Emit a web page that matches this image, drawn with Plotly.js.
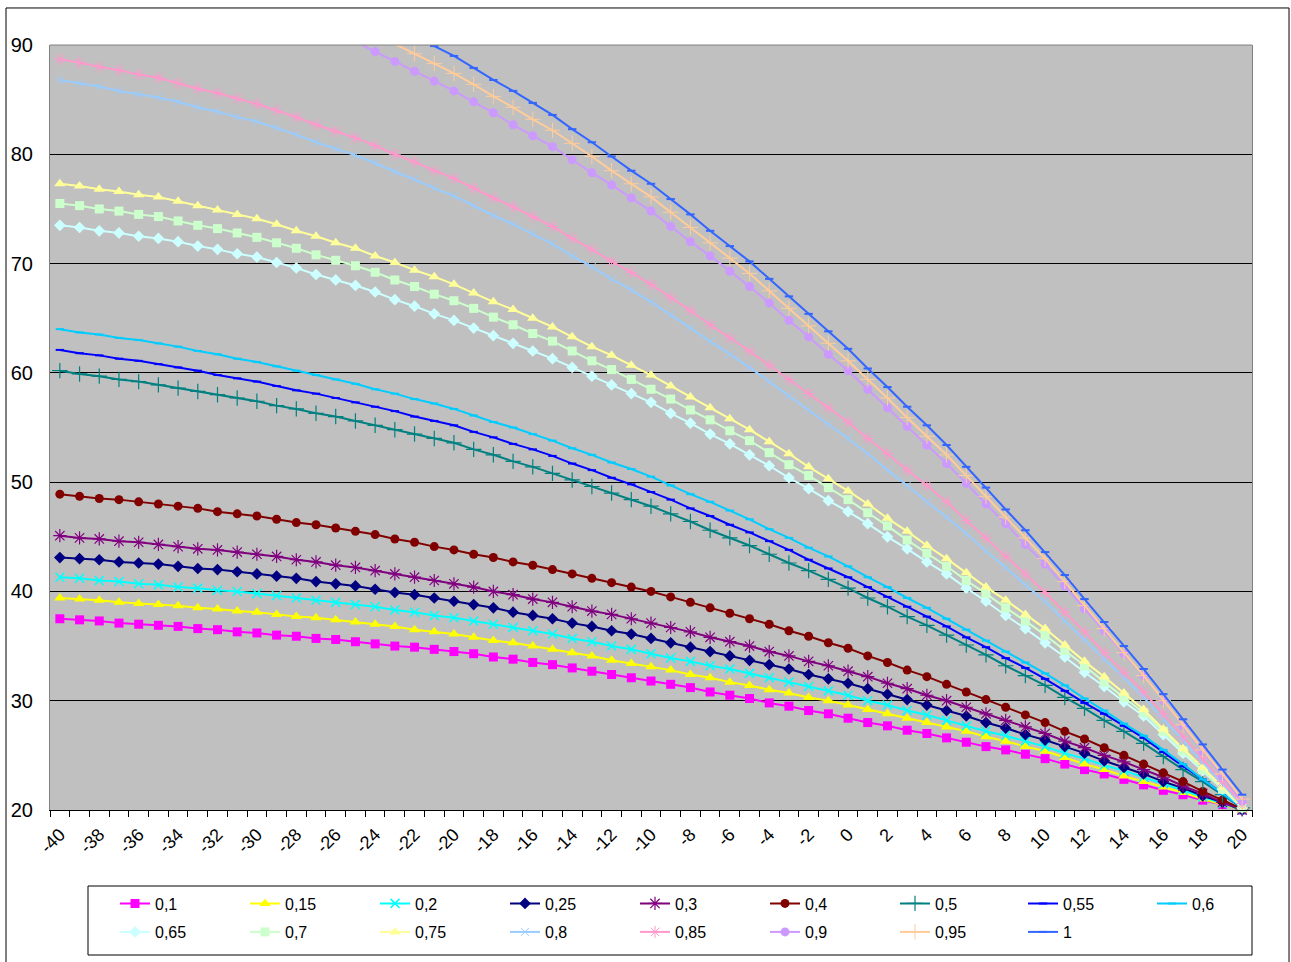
<!DOCTYPE html>
<html>
<head>
<meta charset="utf-8">
<script src="https://cdn.plot.ly/plotly-3.0.1.min.js"></script>
<style>html,body{margin:0;padding:0;background:#fff;}#chart{width:1291px;height:962px;}</style>
</head>
<body>
<div id="chart"></div>
<script>
var xValues = [-40,-39,-38,-37,-36,-35,-34,-33,-32,-31,-30,-29,-28,-27,-26,-25,-24,-23,-22,-21,-20,-19,-18,-17,-16,-15,-14,-13,-12,-11,-10,-9,-8,-7,-6,-5,-4,-3,-2,-1,0,1,2,3,4,5,6,7,8,9,10,11,12,13,14,15,16,17,18,19,20];
var tickValues = [-40,-38,-36,-34,-32,-30,-28,-26,-24,-22,-20,-18,-16,-14,-12,-10,-8,-6,-4,-2,0,2,4,6,8,10,12,14,16,18,20];
var tickLabels = ['-40','-38','-36','-34','-32','-30','-28','-26','-24','-22','-20','-18','-16','-14','-12','-10','-8','-6','-4','-2','0','2','4','6','8','10','12','14','16','18','20'];
var seriesNames = ['0,1','0,15','0,2','0,25','0,3','0,4','0,5','0,55','0,6','0,65','0,7','0,75','0,8','0,85','0,9','0,95','1'];

var s010 = [37.5,37.4,37.3,37.1,37.0, 36.9,36.8,36.6,36.5,36.3, 36.2,36.0,35.9,35.7,35.6, 35.4,35.2,35.0,34.9,34.7, 34.5,34.3,34.0,33.8,33.5, 33.3,33.0,32.7,32.4,32.1, 31.8,31.5,31.2,30.8,30.5, 30.2,29.8,29.5,29.1,28.8, 28.4,28.0,27.7,27.3,27.0, 26.6,26.2,25.8,25.5,25.1, 24.7,24.2,23.7,23.3,22.8, 22.3,21.8,21.4,20.9,20.5, 20.0];
var s015 = [39.4,39.3,39.2,39.0,38.9, 38.8,38.7,38.5,38.4,38.2, 38.1,37.9,37.7,37.6,37.4, 37.2,37.0,36.8,36.5,36.3, 36.1,35.8,35.5,35.3,35.0, 34.7,34.4,34.1,33.7,33.4, 33.1,32.8,32.4,32.1,31.7, 31.4,31.0,30.7,30.3,30.0, 29.6,29.2,28.8,28.4,28.0, 27.6,27.2,26.7,26.3,25.8, 25.4,24.8,24.2,23.7,23.1, 22.6,22.1,21.6,21.0,20.5, 20.0];
var s020 = [41.3,41.2,41.0,40.9,40.7, 40.6,40.4,40.3,40.1,40.0, 39.8,39.6,39.4,39.2,39.0, 38.8,38.6,38.3,38.1,37.8, 37.6,37.3,37.0,36.7,36.4, 36.1,35.7,35.4,35.0,34.7, 34.3,33.9,33.6,33.2,32.9, 32.5,32.1,31.7,31.3,30.9, 30.5,30.0,29.6,29.1,28.7, 28.2,27.7,27.2,26.8,26.3, 25.8,25.2,24.7,24.1,23.6, 23.0,22.4,21.8,21.2,20.6, 20.0];
var s025 = [43.1,43.0,42.9,42.7,42.6, 42.5,42.3,42.1,42.0,41.8, 41.6,41.4,41.2,40.9,40.7, 40.5,40.2,39.9,39.7,39.4, 39.1,38.8,38.5,38.1,37.8, 37.5,37.1,36.8,36.4,36.1, 35.7,35.3,34.9,34.5,34.1, 33.7,33.3,32.9,32.4,32.0, 31.6,31.1,30.6,30.1,29.6, 29.1,28.6,28.0,27.5,26.9, 26.4,25.8,25.2,24.5,23.9, 23.3,22.6,22.0,21.3,20.7, 20.0];
var s030 = [45.1,44.9,44.8,44.6,44.5, 44.3,44.1,43.9,43.8,43.6, 43.4,43.2,42.9,42.7,42.4, 42.2,41.9,41.6,41.3,41.0, 40.7,40.4,40.0,39.7,39.3, 39.0,38.6,38.2,37.9,37.5, 37.1,36.7,36.3,35.8,35.4, 35.0,34.5,34.1,33.6,33.2, 32.7,32.2,31.6,31.1,30.5, 30.0,29.4,28.8,28.2,27.6, 27.0,26.3,25.7,25.0,24.4, 23.7,23.0,22.2,21.5,20.7, 20.0];
var s040 = [48.9,48.7,48.5,48.4,48.2, 48.0,47.8,47.6,47.3,47.1, 46.9,46.6,46.3,46.1,45.8, 45.5,45.2,44.8,44.5,44.1, 43.8,43.4,43.1,42.7,42.4, 42.0,41.6,41.2,40.8,40.4, 40.0,39.5,39.0,38.5,38.0, 37.5,37.0,36.4,35.9,35.3, 34.8,34.1,33.5,32.8,32.2, 31.5,30.8,30.1,29.4,28.7, 28.0,27.2,26.5,25.7,25.0, 24.2,23.4,22.6,21.7,20.9, 20.1];
var s050 = [60.2,59.9,59.7,59.4,59.2, 58.9,58.6,58.3,58.0,57.7, 57.4,57.0,56.7,56.3,56.0, 55.6,55.2,54.8,54.4,54.0, 53.6,53.0,52.5,51.9,51.4, 50.8,50.2,49.6,49.0,48.4, 47.8,47.1,46.4,45.6,44.9, 44.2,43.4,42.6,41.9,41.1, 40.3,39.4,38.6,37.7,36.9, 36.0,35.1,34.2,33.2,32.3, 31.4,30.3,29.3,28.2,27.2, 26.1,24.9,23.7,22.6,21.4, 20.2];
var s055 = [62.1,61.8,61.6,61.3,61.1, 60.8,60.5,60.2,59.8,59.5, 59.2,58.8,58.4,58.1,57.7, 57.3,56.9,56.5,56.0,55.6, 55.2,54.6,54.1,53.5,53.0, 52.4,51.7,51.1,50.4,49.8, 49.1,48.4,47.6,46.9,46.1, 45.4,44.6,43.8,42.9,42.1, 41.3,40.4,39.5,38.6,37.7, 36.8,35.8,34.9,33.9,33.0, 32.0,30.9,29.8,28.8,27.7, 26.6,25.3,24.0,22.8,21.5, 20.2];
var s060 = [64.0,63.7,63.5,63.2,63.0, 62.7,62.4,62.0,61.7,61.3, 61.0,60.6,60.2,59.8,59.4, 59.0,58.5,58.1,57.6,57.2, 56.7,56.1,55.5,55.0,54.4, 53.8,53.1,52.5,51.8,51.2, 50.5,49.7,48.9,48.2,47.4, 46.6,45.7,44.9,44.0,43.2, 42.3,41.3,40.4,39.4,38.5, 37.5,36.5,35.5,34.5,33.5, 32.5,31.4,30.2,29.1,27.9, 26.8,25.5,24.2,22.8,21.5, 20.2];
var s065 = [73.5,73.3,73.0,72.8,72.5, 72.3,72.0,71.6,71.3,70.9, 70.6,70.1,69.6,69.0,68.5, 68.0,67.4,66.7,66.1,65.4, 64.8,64.1,63.4,62.7,62.0, 61.3,60.5,59.7,58.9,58.1, 57.3,56.3,55.4,54.4,53.5, 52.5,51.5,50.4,49.4,48.3, 47.3,46.2,45.0,43.9,42.7, 41.6,40.3,39.1,37.8,36.6, 35.3,34.0,32.6,31.3,29.9, 28.6,26.9,25.2,23.6,21.9, 20.2];
var s070 = [75.5,75.3,75.0,74.8,74.5, 74.3,73.9,73.5,73.2,72.8, 72.4,71.9,71.4,70.8,70.3, 69.8,69.2,68.5,67.9,67.2, 66.6,65.9,65.1,64.4,63.6, 62.9,62.0,61.1,60.3,59.4, 58.5,57.6,56.6,55.7,54.7, 53.8,52.7,51.6,50.6,49.5, 48.4,47.2,46.0,44.7,43.5, 42.3,41.0,39.8,38.5,37.3, 36.0,34.6,33.2,31.7,30.3, 28.9,27.2,25.4,23.7,21.9, 20.2];
var s075 = [77.3,77.1,76.8,76.6,76.3, 76.1,75.7,75.3,74.9,74.5, 74.1,73.6,73.0,72.5,71.9, 71.4,70.7,70.1,69.4,68.8, 68.1,67.3,66.5,65.8,65.0, 64.2,63.3,62.4,61.6,60.7, 59.8,58.8,57.8,56.8,55.8, 54.8,53.7,52.6,51.4,50.3, 49.2,48.0,46.7,45.5,44.2, 43.0,41.7,40.4,39.2,37.9, 36.6,35.1,33.6,32.2,30.7, 29.2,27.4,25.6,23.9,22.1, 20.3];
var s080 = [86.8,86.5,86.2,85.8,85.5, 85.2,84.8,84.3,83.9,83.4, 83.0,82.4,81.8,81.1,80.5, 79.9,79.2,78.4,77.7,76.9, 76.2,75.3,74.4,73.6,72.7, 71.8,70.7,69.7,68.6,67.6, 66.5,65.3,64.1,62.9,61.7, 60.5,59.2,57.9,56.6,55.3, 54.0,52.6,51.1,49.7,48.2, 46.8,45.3,43.7,42.2,40.6, 39.1,37.3,35.6,33.8,32.1, 30.3,28.3,26.3,24.4,22.4, 20.4];
var s085 = [88.7,88.4,88.0,87.7,87.3, 87.0,86.5,86.0,85.6,85.1, 84.6,84.0,83.4,82.7,82.1, 81.5,80.8,80.0,79.3,78.5, 77.8,76.9,76.0,75.2,74.3, 73.4,72.3,71.3,70.2,69.2, 68.1,66.9,65.7,64.4,63.2, 62.0,60.7,59.4,58.1,56.8, 55.5,54.0,52.6,51.1,49.7, 48.2,46.5,44.9,43.2,41.6, 39.9,38.1,36.3,34.4,32.6, 30.8,28.8,26.7,24.7,22.6, 20.6];
var s090 = [100.3,99.7,99.2,98.6,98.1, 97.5,96.8,96.2,95.5,94.9, 94.2,93.4,92.6,91.9,91.1, 90.3,89.4,88.5,87.6,86.7, 85.8,84.8,83.8,82.7,81.7, 80.7,79.5,78.3,77.2,76.0, 74.8,73.4,72.0,70.7,69.3, 67.9,66.4,64.8,63.3,61.7, 60.2,58.5,56.8,55.1,53.4, 51.7,49.9,48.0,46.2,44.3, 42.5,40.5,38.4,36.4,34.3, 32.3,30.0,27.7,25.4,23.1, 20.8];
var s095 = [101.6,101.1,100.5,100.0,99.4, 98.9,98.3,97.6,97.0,96.3, 95.7,94.9,94.2,93.4,92.7, 91.9,91.0,90.1,89.2,88.3, 87.4,86.4,85.3,84.3,83.2, 82.2,81.0,79.8,78.5,77.3, 76.1,74.7,73.3,71.9,70.5, 69.1,67.5,65.9,64.3,62.7, 61.1,59.4,57.7,55.9,54.2, 52.5,50.6,48.7,46.8,44.9, 43.0,40.9,38.7,36.6,34.4, 32.3,30.0,27.8,25.5,23.3, 21.0];
var s100 = [103.3,102.8,102.2,101.7,101.1, 100.6,100.0,99.3,98.7,98.0, 97.4,96.6,95.9,95.1,94.4, 93.6,92.7,91.8,90.8,89.9, 89.0,87.9,86.8,85.8,84.7, 83.6,82.3,81.1,79.8,78.5, 77.3,75.9,74.5,73.0,71.6, 70.2,68.6,67.0,65.4,63.8, 62.2,60.4,58.7,56.9,55.2, 53.4,51.4,49.5,47.5,45.6, 43.6,41.5,39.3,37.2,35.0, 32.9,30.6,28.3,26.0,23.7, 21.4];

var seriesValues = [s010,s015,s020,s025,s030,s040,s050,s055,s060,s065,s070,s075,s080,s085,s090,s095,s100];

var styles = [
  {c:'#FF00FF', s:'square', z:9},
  {c:'#FFFF00', s:'triangle-up', z:10},
  {c:'#00FFFF', s:'x-thin-open', z:9, w:1.5},
  {c:'#000080', s:'diamond', z:9},
  {c:'#800080', s:'asterisk-open', z:11, w:1.2},
  {c:'#800000', s:'circle', z:9},
  {c:'#008080', s:'cross-thin-open', z:11, w:1.2},
  {c:'#0000FF', s:'line-ew-open', z:6, w:2},
  {c:'#00CCFF', s:'line-ew-open', z:6, w:2},
  {c:'#CCFFFF', s:'diamond', z:9},
  {c:'#CCFFCC', s:'square', z:9},
  {c:'#FFFF99', s:'triangle-up', z:10},
  {c:'#99CCFF', s:'x-thin-open', z:8, w:1},
  {c:'#FF99CC', s:'asterisk-open', z:10, w:1},
  {c:'#CC99FF', s:'circle', z:9},
  {c:'#FFCC99', s:'cross-thin-open', z:11, w:1},
  {c:'#3366FF', s:'line-ew-open', z:6, w:2}
];

// legend layout: 9 columns x 2 rows, one single-entry legend per series
var nCols = 9;
var colCenterPx = [135, 265, 395, 525, 655, 785, 915, 1043, 1172];
var rowTopPx = [886.5, 915];
var W = 1291, H = 962;
var plotL = 50, plotW = 1202, plotB = 810, plotH = 765;

function legendKey(i) { return i === 0 ? 'legend' : 'legend' + (i + 1); }

var traces = seriesValues.map(function(vals, i){
  var st = styles[i];
  var m = {symbol: st.s, size: st.z, color: st.c};
  if (st.w) m.line = {color: st.c, width: st.w};
  return {
    type: 'scatter', mode: 'lines+markers', name: seriesNames[i],
    x: xValues, y: vals,
    line: {color: st.c, width: 2},
    marker: m,
    cliponaxis: (i >= 14),
    legend: legendKey(i)
  };
});

var boundaries = xValues.concat([xValues[xValues.length-1] + 1]).map(function(v){ return v - 0.5; });

var layout = {
  width: W, height: H,
  margin: {l: plotL, r: W - plotL - plotW, t: 45, b: H - plotB},
  paper_bgcolor: '#FFFFFF',
  plot_bgcolor: '#C0C0C0',
  font: {family: 'Liberation Sans, Arial, sans-serif', size: 18, color: '#000'},
  showlegend: true,
  xaxis: {
    type: 'linear', range: [-40.5, 20.5], autorange: false,
    tickmode: 'array', tickvals: tickValues, ticktext: tickLabels,
    tickangle: -45, tickfont: {size: 18, color: '#000'},
    ticks: 'outside', ticklen: 6, tickcolor: 'rgba(0,0,0,0)',
    minor: {tickmode: 'array', tickvals: boundaries, ticks: 'outside', ticklen: 6, tickcolor: '#000', tickwidth: 1, showgrid: false},
    showgrid: false, zeroline: false,
    showline: true, linecolor: '#000', linewidth: 1,
    automargin: false
  },
  yaxis: {
    range: [20, 90], autorange: false, dtick: 10, tick0: 20,
    tickfont: {size: 20, color: '#000'}, ticklabelstandoff: 12,
    ticks: '', showgrid: true, gridcolor: '#000', gridwidth: 1,
    zeroline: false, showline: true, linecolor: '#808080', linewidth: 1, mirror: true,
    automargin: false
  },
  shapes: [
    {type: 'line', xref: 'paper', yref: 'paper', x0: 0, x1: 1, y0: 1, y1: 1, line: {color: '#808080', width: 1}},
    {type: 'rect', xref: 'paper', yref: 'paper', x0: -0.0366, x1: 1.0308, y0: -0.25, y1: 1.0484, line: {color: '#000', width: 1}},
    {type: 'rect', xref: 'paper', yref: 'paper', x0: (88 - plotL) / plotW, x1: (1252 - plotL) / plotW, y0: (plotB - 955) / plotH, y1: (plotB - 886) / plotH, line: {color: '#000', width: 1}, fillcolor: 'rgba(0,0,0,0)'}
  ]
};

for (var i = 0; i < seriesValues.length; i++) {
  var col = i % nCols, row = Math.floor(i / nCols);
  layout[legendKey(i)] = {
    orientation: 'v',
    x: (colCenterPx[col] - 20 - plotL) / plotW, xanchor: 'left',
    y: (plotB - rowTopPx[row]) / plotH, yanchor: 'top',
    bgcolor: 'rgba(0,0,0,0)', borderwidth: 0,
    font: {size: 16, color: '#000'}
  };
}

Plotly.newPlot('chart', traces, layout, {displayModeBar: false, staticPlot: true});
</script>
</body>
</html>
